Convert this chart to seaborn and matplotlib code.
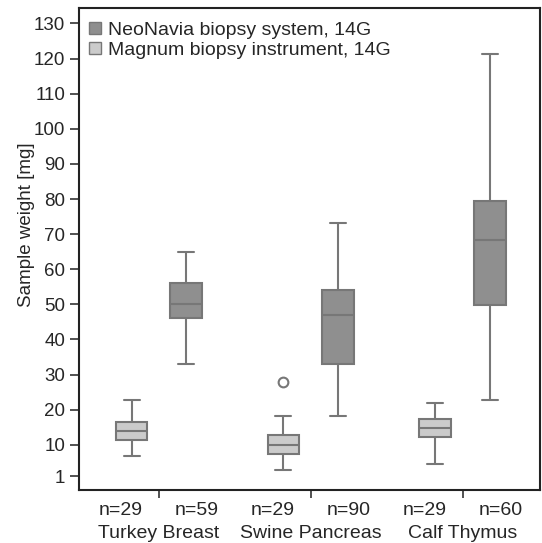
import matplotlib.pyplot as plt
import pandas as pd
import seaborn as sns
from matplotlib.patches import Patch

tissues = ['Turkey Breast', 'Swine Pancreas', 'Calf Thymus']
devices = ['Magnum biopsy instrument, 14G', 'NeoNavia biopsy system, 14G']

# Box summaries (mg), one value per tissue.
magnum_low = [6.7, 2.9, 4.5]
magnum_q1 = [11.4, 7.4, 12.1]
magnum_median = [14.0, 9.9, 14.7]
magnum_q3 = [16.6, 12.9, 17.3]
magnum_high = [22.8, 18.2, 21.9]
magnum_outliers = [[], [28.0], []]
magnum_n = [29, 29, 29]

neo_low = [33.0, 18.1, 22.9]
neo_q1 = [46.0, 33.0, 49.9]
neo_median = [50.1, 47.1, 68.2]
neo_q3 = [56.2, 54.2, 79.4]
neo_high = [65.0, 73.2, 121.3]
neo_outliers = [[], [], []]
neo_n = [59, 90, 60]

y_ticks = [1, 10, 20, 30, 40, 50, 60, 70, 80, 90, 100, 110, 120, 130]

light = '#cbcbcb'
dark = '#8f8f8f'
edge = '#777777'

# Nine values per box, so that the linear 25/50/75 percentiles land on the
# read quartiles; the last slot is the outlier if there is one.
rows = []
summaries = [
    (devices[0], magnum_low, magnum_q1, magnum_median, magnum_q3, magnum_high, magnum_outliers),
    (devices[1], neo_low, neo_q1, neo_median, neo_q3, neo_high, neo_outliers),
]
for device, low, q1, med, q3, high, outl in summaries:
    for i, tissue in enumerate(tissues):
        vals = [low[i], q1[i], q1[i], med[i], med[i], q3[i], q3[i], high[i]]
        vals += outl[i] if outl[i] else [high[i]]
        rows += [(tissue, device, v) for v in vals]
df = pd.DataFrame(rows, columns=['Tissue', 'Device', 'Weight'])

sns.set_theme(style='white')
plt.rcParams['font.family'] = ['Liberation Sans', 'DejaVu Sans']

fig, ax = plt.subplots(figsize=(5.42, 5.43), dpi=100)
fig.subplots_adjust(left=0.146, right=0.997, bottom=0.098, top=0.986)

sns.boxplot(data=df, x='Tissue', y='Weight', hue='Device',
            order=tissues, hue_order=devices, palette=[light, dark],
            saturation=1, width=0.72, gap=0.42, linecolor=edge, linewidth=1.5,
            flierprops=dict(marker='o', markersize=7, markerfacecolor='white',
                            markeredgecolor=edge, markeredgewidth=1.5),
            legend=False, ax=ax)

ax.set_xlim(-0.526, 2.513)
ax.set_ylim(-2.8, 134.5)
ax.set_yticks(y_ticks)
ax.tick_params(axis='y', direction='out', length=6.5, width=1.2, color='#333333',
               labelsize=13.5, pad=3.5, left=True)
ax.set_xticks(range(len(tissues)))
ax.set_xticklabels(tissues)
ax.tick_params(axis='x', direction='out', length=6, width=1.2, color='#333333',
               labelsize=14, pad=19, bottom=True)
for spine in ax.spines.values():
    spine.set_visible(True)
    spine.set_color('#222222')
    spine.set_linewidth(1.5)

ax.set_xlabel('')
ax.set_ylabel('Sample weight [mg]', fontsize=13.5)
ax.yaxis.set_label_coords(-0.095, 0.55)

# sample counts under each box
for i in range(len(tissues)):
    ax.text(i - 0.25, -0.042, f'n={magnum_n[i]}', transform=ax.get_xaxis_transform(),
            ha='center', va='center', fontsize=14)
    ax.text(i + 0.25, -0.042, f'n={neo_n[i]}', transform=ax.get_xaxis_transform(),
            ha='center', va='center', fontsize=14)

handles = [Patch(facecolor=dark, edgecolor=edge, linewidth=1),
           Patch(facecolor=light, edgecolor=edge, linewidth=1)]
ax.legend(handles, [devices[1], devices[0]], loc='upper left',
          bbox_to_anchor=(0.0, 0.99), frameon=False,
          fontsize=14, handlelength=0.6, handleheight=0.6, handletextpad=0.4,
          labelspacing=0.15, borderaxespad=0.2, borderpad=0.3)

plt.savefig('out.png', dpi=100)
